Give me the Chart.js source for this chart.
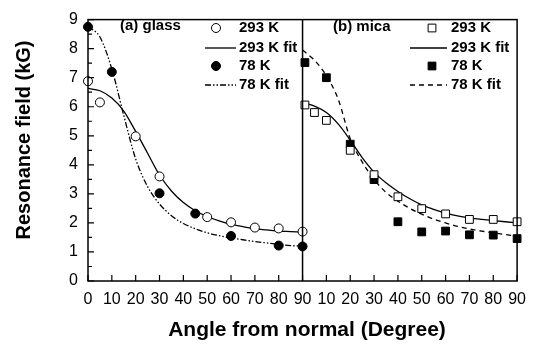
<!DOCTYPE html>
<html>
<head>
<meta charset="utf-8">
<script src="https://cdn.jsdelivr.net/npm/chart.js@4.4.0/dist/chart.umd.min.js"></script>
<style>
    html, body { margin: 0; padding: 0; background: #fff; }
</style>
</head>
<body>
<canvas id="chart" width="535" height="345"></canvas>
<script>
//============================================= Data =============================================//
// angle from normal (degree) / resonance field (kG)
const glassAngles293 = [0, 5, 20, 30, 50, 60, 70, 80, 90];
const glassField293 = [6.88, 6.15, 4.98, 3.6, 2.2, 2.02, 1.84, 1.81, 1.7];
const glassAngles78 = [0, 10, 30, 45, 60, 80, 90];
const glassField78 = [8.75, 7.2, 3.02, 2.32, 1.55, 1.22, 1.19];

const micaAngles293 = [1, 5, 10, 20, 30, 40, 50, 60, 70, 80, 90];
const micaField293 = [6.06, 5.8, 5.53, 4.5, 3.66, 2.9, 2.49, 2.31, 2.12, 2.12, 2.04];
const micaAngles78 = [1, 10, 20, 30, 40, 50, 60, 70, 80, 90];
const micaField78 = [7.52, 7.0, 4.71, 3.49, 2.04, 1.69, 1.72, 1.59, 1.58, 1.46];

// fit curves
const fitAngles = [0, 5, 10, 15, 20, 25, 30, 35, 40, 45, 50, 55, 60, 65, 70, 75, 80, 85, 90];
const glassFit293 = [6.63, 6.55, 6.3, 5.85, 5.15, 4.4, 3.65, 3.1, 2.7, 2.42, 2.22, 2.07, 1.95, 1.87, 1.8, 1.76, 1.72, 1.7, 1.68];
const glassFit78 = [8.75, 8.4, 7.3, 5.7, 4.2, 3.25, 2.65, 2.25, 1.98, 1.8, 1.66, 1.56, 1.48, 1.42, 1.36, 1.31, 1.26, 1.22, 1.2];
const micaFit293 = [6.14, 6.02, 5.8, 5.4, 4.85, 4.25, 3.75, 3.38, 3.08, 2.83, 2.62, 2.47, 2.34, 2.24, 2.17, 2.12, 2.08, 2.04, 2.0];
const micaFit78 = [7.95, 7.6, 7.07, 6.25, 4.9, 4.1, 3.5, 3.05, 2.75, 2.5, 2.3, 2.13, 2.0, 1.88, 1.79, 1.72, 1.66, 1.6, 1.55];

const panelNames = ['(a) glass', '(b) mica'];
const seriesNames = ['293 K', '293 K fit', '78 K', '78 K fit'];
const xTitle = 'Angle from normal (Degree)';
const yTitle = 'Resonance field (kG)';

// mica panel sits to the right of the glass one on the same x scale
const PANEL_SHIFT = 90;
const toXY = (xs, ys, shift) => xs.map((v, i) => ({ x: v + shift, y: ys[i] }));

const FONT = "'Liberation Sans', Arial, sans-serif";

//============================================= Datasets =============================================//
const points = (data, style, filled, radius) => ({
    data: data,
    showLine: false,
    pointStyle: style,
    pointRadius: radius,
    pointHoverRadius: radius,
    pointBorderWidth: 1,
    pointBorderColor: '#000',
    pointBackgroundColor: filled ? '#000' : '#fff',
    clip: false,
    order: 0
});

const fit = (data, dash) => ({
    data: data,
    showLine: true,
    borderColor: '#000',
    borderWidth: 1.3,
    borderDash: dash,
    pointRadius: 0,
    cubicInterpolationMode: 'monotone',
    clip: false,
    order: 1
});

const dashDotDot = [6, 2, 1.5, 2, 1.5, 2];
const dashed = [5, 4];

const datasets = [
    points(toXY(glassAngles293, glassField293, 0), 'circle', false, 4.5),
    fit(toXY(fitAngles, glassFit293, 0), []),
    points(toXY(glassAngles78, glassField78, 0), 'circle', true, 4.5),
    fit(toXY(fitAngles, glassFit78, 0), dashDotDot),
    points(toXY(micaAngles293, micaField293, PANEL_SHIFT), 'rect', false, 5.5),
    fit(toXY(fitAngles, micaFit293, PANEL_SHIFT), []),
    points(toXY(micaAngles78, micaField78, PANEL_SHIFT), 'rect', true, 5.5),
    fit(toXY(fitAngles, micaFit78, PANEL_SHIFT), dashed),
];
datasets.forEach((d, i) => d.label = seriesNames[i % 4]);

//============================================= Frame, ticks, legends =============================================//
const framePlugin = {
    id: 'framePlugin',
    afterDatasetsDraw(chart) {
        const { ctx, chartArea: a, scales: { x, y } } = chart;
        ctx.save();
        ctx.strokeStyle = '#000';
        ctx.lineWidth = 1.5;
        ctx.strokeRect(a.left, a.top, a.right - a.left, a.bottom - a.top);

        const mid = x.getPixelForValue(PANEL_SHIFT);
        ctx.beginPath();
        ctx.moveTo(mid, a.top);
        ctx.lineTo(mid, a.bottom);
        ctx.stroke();

        // inward tick marks
        ctx.lineWidth = 1.2;
        ctx.beginPath();
        x.ticks.forEach(t => {
            const px = x.getPixelForValue(t.value);
            ctx.moveTo(px, a.bottom);
            ctx.lineTo(px, a.bottom - 6);
        });
        y.ticks.forEach(t => {
            const py = y.getPixelForValue(t.value);
            ctx.moveTo(a.left, py);
            ctx.lineTo(a.left + 6, py);
            if (t.value < 9) {
                const ph = y.getPixelForValue(t.value + 0.5);
                ctx.moveTo(a.left, ph);
                ctx.lineTo(a.left + 4, ph);
            }
        });
        ctx.stroke();

        // axis titles
        ctx.fillStyle = '#000';
        ctx.textAlign = 'center';
        ctx.textBaseline = 'middle';
        ctx.font = 'bold 21px ' + FONT;
        ctx.fillText(xTitle, 307, 330);
        ctx.save();
        ctx.translate(24, 140);
        ctx.rotate(-Math.PI / 2);
        ctx.font = 'bold 20px ' + FONT;
        ctx.fillText(yTitle, 0, 0);
        ctx.restore();

        // legends
        const ds = chart.data.datasets;
        const boxes = [
            { title: panelNames[0], tx: 120, ty: 26, sx: 216, lx0: 205, lx1: 236, textX: 239, first: 0 },
            { title: panelNames[1], tx: 333, ty: 27, sx: 432, lx0: 410, lx1: 447, textX: 451, first: 4 }
        ];
        const rows = [28, 48, 66, 85];
        ctx.font = 'bold 15px ' + FONT;
        ctx.textAlign = 'left';
        boxes.forEach(b => {
            ctx.fillText(b.title, b.tx, b.ty);
            for (let r = 0; r < 4; r++) {
                const d = ds[b.first + r];
                const yy = rows[r];
                if (d.showLine) {
                    ctx.save();
                    ctx.lineWidth = d.borderWidth;
                    ctx.setLineDash(d.borderDash);
                    ctx.beginPath();
                    ctx.moveTo(b.lx0, yy);
                    ctx.lineTo(b.lx1, yy);
                    ctx.stroke();
                    ctx.restore();
                } else {
                    ctx.save();
                    ctx.lineWidth = d.pointBorderWidth;
                    ctx.fillStyle = d.pointBackgroundColor;
                    Chart.helpers.drawPoint(ctx, {
                        pointStyle: d.pointStyle,
                        radius: d.pointRadius,
                        borderWidth: d.pointBorderWidth,
                        rotation: 0
                    }, b.sx, yy);
                    ctx.restore();
                }
                ctx.fillText(d.label, b.textX, yy);
            }
        });
        ctx.restore();
    }
};

//============================================= Chart =============================================//
Chart.defaults.font.family = FONT;
Chart.defaults.color = '#000';

new Chart(document.getElementById('chart'), {
    type: 'scatter',
    data: { datasets: datasets },
    options: {
        responsive: false,
        animation: false,
        layout: { padding: { top: 14, right: 15, left: 0, bottom: 0 } },
        plugins: {
            legend: { display: false },
            tooltip: { enabled: false }
        },
        scales: {
            x: {
                type: 'linear',
                min: 0,
                max: 2 * PANEL_SHIFT,
                afterFit: (scale) => { scale.height = 64; },
                grid: { drawOnChartArea: false, drawTicks: false },
                border: { display: false },
                ticks: {
                    stepSize: 10,
                    autoSkip: false,
                    maxRotation: 0,
                    padding: 9,
                    font: { size: 16 },
                    callback: (v) => v <= PANEL_SHIFT ? v : v - PANEL_SHIFT
                }
            },
            y: {
                min: 0,
                max: 9,
                afterFit: (scale) => { scale.width = 88; },
                grid: { drawOnChartArea: false, drawTicks: false },
                border: { display: false },
                ticks: {
                    stepSize: 1,
                    padding: 10,
                    font: { size: 16 }
                }
            }
        }
    },
    plugins: [framePlugin]
});
</script>
</body>
</html>
